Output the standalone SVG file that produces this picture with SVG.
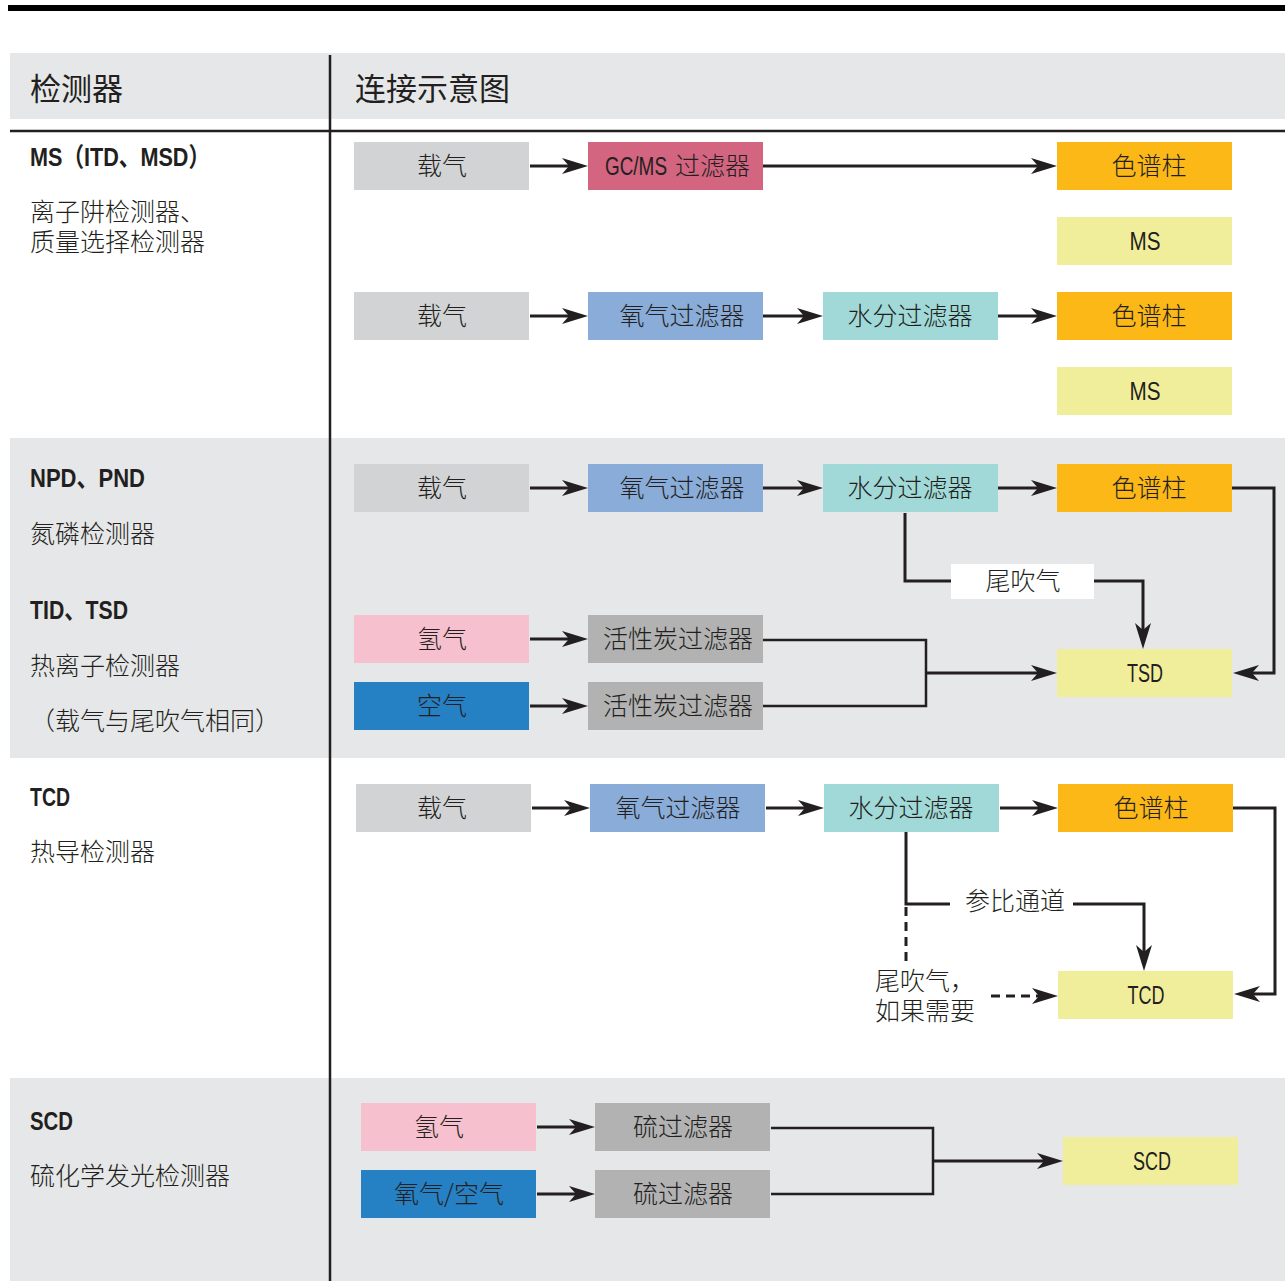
<svg xmlns="http://www.w3.org/2000/svg" width="1285" height="1281" viewBox="0 0 1285 1281">
<defs>
<style>
.bg{fill:#e6e7e8}
.ln{fill:none;stroke:#231f20;stroke-width:3}
.lt{fill:none;stroke:#231f20;stroke-width:2.5}
.ds{fill:none;stroke:#231f20;stroke-width:3;stroke-dasharray:9 6}
.t{font-family:"Noto Sans CJK SC","Liberation Sans",sans-serif;font-size:25px;fill:#231f20;font-weight:300}
.h{font-family:"Noto Sans CJK SC","Liberation Sans",sans-serif;font-size:31px;fill:#231f20;font-weight:400}
.b{font-family:"Liberation Sans","Noto Sans CJK SC",sans-serif;font-size:26px;fill:#231f20;font-weight:bold}
.l{font-family:"Liberation Sans","Noto Sans CJK SC",sans-serif;font-size:26px;fill:#231f20}
.c{text-anchor:middle}
.gray{fill:#d1d3d4}.pink{fill:#d36581}.orange{fill:#fbb817}.yellow{fill:#f1ee9b}
.blue{fill:#8aacd9}.teal{fill:#a0d9d7}.rose{fill:#f6c0ce}.navy{fill:#2680c4}.dark{fill:#b2b2b2}
</style>
<marker id="ar" viewBox="0 0 26 16" markerWidth="26" markerHeight="16" refX="18" refY="8" orient="auto" markerUnits="userSpaceOnUse">
<path d="M0,0 L26,8 L0,16 L7,8 Z" fill="#231f20"/>
</marker>
</defs>
<rect width="1285" height="1281" fill="#ffffff"/>
<g id="frame">
<rect x="8" y="5" width="1277" height="6" fill="#000"/>
<rect class="bg" x="10" y="53" width="1275" height="66"/>
<rect class="bg" x="10" y="438" width="1275" height="320"/>
<rect class="bg" x="10" y="1078" width="1275" height="203"/>
<path class="lt" d="M10,131 H1285"/>
<path class="lt" d="M330,55 V1281"/>
<text class="h" x="30" y="100">检测器</text>
<text class="h" x="355" y="100">连接示意图</text>
</g>
<g id="labels">
<text class="b" x="30" y="166" textLength="180" lengthAdjust="spacingAndGlyphs">MS（ITD、MSD）</text>
<text class="t" x="30" y="221"><tspan x="30" y="221">离子阱检测器、</tspan><tspan x="30" y="251">质量选择检测器</tspan></text>
<text class="b" x="30" y="487" textLength="115" lengthAdjust="spacingAndGlyphs">NPD、PND</text>
<text class="t" x="30" y="543">氮磷检测器</text>
<text class="b" x="30" y="619" textLength="98" lengthAdjust="spacingAndGlyphs">TID、TSD</text>
<text class="t" x="30" y="675">热离子检测器</text>
<text class="t" x="30" y="730">（载气与尾吹气相同）</text>
<text class="b" x="30" y="806" textLength="40" lengthAdjust="spacingAndGlyphs">TCD</text>
<text class="t" x="30" y="861">热导检测器</text>
<text class="b" x="30" y="1130" textLength="43" lengthAdjust="spacingAndGlyphs">SCD</text>
<text class="t" x="30" y="1185">硫化学发光检测器</text>
</g>
<g id="connectors">
<path class="ln" d="M530,166 H580" marker-end="url(#ar)"/>
<path class="ln" d="M763,166 H1049" marker-end="url(#ar)"/>
<path class="ln" d="M530,316 H580" marker-end="url(#ar)"/>
<path class="ln" d="M763,316 H815" marker-end="url(#ar)"/>
<path class="ln" d="M998,316 H1049" marker-end="url(#ar)"/>
<path class="ln" d="M530,488 H580" marker-end="url(#ar)"/>
<path class="ln" d="M763,488 H815" marker-end="url(#ar)"/>
<path class="ln" d="M998,488 H1049" marker-end="url(#ar)"/>
<path class="ln" d="M1232,488 H1274 V673 H1241" marker-end="url(#ar)"/>
<path class="ln" d="M905,513 V581 H951"/>
<path class="ln" d="M1094,581 H1143 V641" marker-end="url(#ar)"/>
<path class="ln" d="M530,639 H580" marker-end="url(#ar)"/>
<path class="ln" d="M530,706 H580" marker-end="url(#ar)"/>
<path class="lt" d="M763,640 H926 V706 H763"/>
<path class="ln" d="M926,673 H1049" marker-end="url(#ar)"/>
<path class="ln" d="M532,808 H582" marker-end="url(#ar)"/>
<path class="ln" d="M766,808 H816" marker-end="url(#ar)"/>
<path class="ln" d="M1000,808 H1050" marker-end="url(#ar)"/>
<path class="ln" d="M1233,808 H1275 V994 H1242" marker-end="url(#ar)"/>
<path class="ln" d="M906,832 V904 H950"/>
<path class="ln" d="M1073,904 H1144 V963" marker-end="url(#ar)"/>
<path class="ds" d="M906,907 V963"/>
<path class="ds" d="M991,996 H1050" marker-end="url(#ar)"/>
<path class="ln" d="M537,1127 H587" marker-end="url(#ar)"/>
<path class="ln" d="M537,1194 H587" marker-end="url(#ar)"/>
<path class="lt" d="M771,1128 H933 V1194 H771"/>
<path class="ln" d="M933,1161 H1055" marker-end="url(#ar)"/>
</g>
<g id="ms-carrier1"><rect class="gray" x="354" y="142" width="175" height="48"/><text class="t c" x="442" y="175">载气</text></g>
<g id="ms-gcms-filter"><rect class="pink" x="588" y="142" width="175" height="48"/><text class="t" x="605" y="175"><tspan class="l" textLength="62" lengthAdjust="spacingAndGlyphs">GC/MS</tspan><tspan dx="8">过滤器</tspan></text></g>
<g id="ms-column1"><rect class="orange" x="1057" y="142" width="175" height="48"/><text class="t c" x="1149" y="175">色谱柱</text></g>
<g id="ms-ms1"><rect class="yellow" x="1057" y="217" width="175" height="48"/><text class="l c" x="1145" y="250" textLength="31" lengthAdjust="spacingAndGlyphs">MS</text></g>
<g id="ms-carrier2"><rect class="gray" x="354" y="292" width="175" height="48"/><text class="t c" x="442" y="325">载气</text></g>
<g id="ms-o2-filter"><rect class="blue" x="588" y="292" width="175" height="48"/><text class="t c" x="682" y="325">氧气过滤器</text></g>
<g id="ms-h2o-filter"><rect class="teal" x="823" y="292" width="175" height="48"/><text class="t c" x="910" y="325">水分过滤器</text></g>
<g id="ms-column2"><rect class="orange" x="1057" y="292" width="175" height="48"/><text class="t c" x="1149" y="325">色谱柱</text></g>
<g id="ms-ms2"><rect class="yellow" x="1057" y="367" width="175" height="48"/><text class="l c" x="1145" y="400" textLength="31" lengthAdjust="spacingAndGlyphs">MS</text></g>
<g id="npd-carrier"><rect class="gray" x="354" y="464" width="175" height="48"/><text class="t c" x="442" y="497">载气</text></g>
<g id="npd-o2-filter"><rect class="blue" x="588" y="464" width="175" height="48"/><text class="t c" x="682" y="497">氧气过滤器</text></g>
<g id="npd-h2o-filter"><rect class="teal" x="823" y="464" width="175" height="48"/><text class="t c" x="910" y="497">水分过滤器</text></g>
<g id="npd-column"><rect class="orange" x="1057" y="464" width="175" height="48"/><text class="t c" x="1149" y="497">色谱柱</text></g>
<g id="npd-makeup"><rect fill="#fff" x="951" y="564" width="143" height="35"/><text class="t c" x="1023" y="590">尾吹气</text></g>
<g id="npd-h2"><rect class="rose" x="354" y="615" width="175" height="48"/><text class="t c" x="442" y="648">氢气</text></g>
<g id="npd-c-filter1"><rect class="dark" x="588" y="615" width="175" height="48"/><text class="t c" x="678" y="648">活性炭过滤器</text></g>
<g id="npd-air"><rect class="navy" x="354" y="682" width="175" height="48"/><text class="t c" x="442" y="715">空气</text></g>
<g id="npd-c-filter2"><rect class="dark" x="588" y="682" width="175" height="48"/><text class="t c" x="678" y="715">活性炭过滤器</text></g>
<g id="npd-tsd"><rect class="yellow" x="1057" y="649" width="175" height="48"/><text class="l c" x="1145" y="682" textLength="36" lengthAdjust="spacingAndGlyphs">TSD</text></g>
<g id="tcd-carrier"><rect class="gray" x="356" y="784" width="175" height="48"/><text class="t c" x="442" y="817">载气</text></g>
<g id="tcd-o2-filter"><rect class="blue" x="590" y="784" width="175" height="48"/><text class="t c" x="678" y="817">氧气过滤器</text></g>
<g id="tcd-h2o-filter"><rect class="teal" x="824" y="784" width="175" height="48"/><text class="t c" x="911" y="817">水分过滤器</text></g>
<g id="tcd-column"><rect class="orange" x="1058" y="784" width="175" height="48"/><text class="t c" x="1151" y="817">色谱柱</text></g>
<g id="tcd-ref"><text class="t" x="965" y="910">参比通道</text></g>
<g id="tcd-makeup"><text class="t" x="875" y="990"><tspan x="875" y="990">尾吹气，</tspan><tspan x="875" y="1020">如果需要</tspan></text></g>
<g id="tcd-tcd"><rect class="yellow" x="1058" y="971" width="175" height="48"/><text class="l c" x="1146" y="1004" textLength="37" lengthAdjust="spacingAndGlyphs">TCD</text></g>
<g id="scd-h2"><rect class="rose" x="361" y="1103" width="175" height="48"/><text class="t c" x="439" y="1136">氢气</text></g>
<g id="scd-s-filter1"><rect class="dark" x="595" y="1103" width="175" height="48"/><text class="t c" x="683" y="1136">硫过滤器</text></g>
<g id="scd-o2air"><rect class="navy" x="361" y="1170" width="175" height="48"/><text class="t c" x="449" y="1203">氧气/空气</text></g>
<g id="scd-s-filter2"><rect class="dark" x="595" y="1170" width="175" height="48"/><text class="t c" x="683" y="1203">硫过滤器</text></g>
<g id="scd-scd"><rect class="yellow" x="1063" y="1137" width="175" height="48"/><text class="l c" x="1152" y="1170" textLength="38" lengthAdjust="spacingAndGlyphs">SCD</text></g>
</svg>
